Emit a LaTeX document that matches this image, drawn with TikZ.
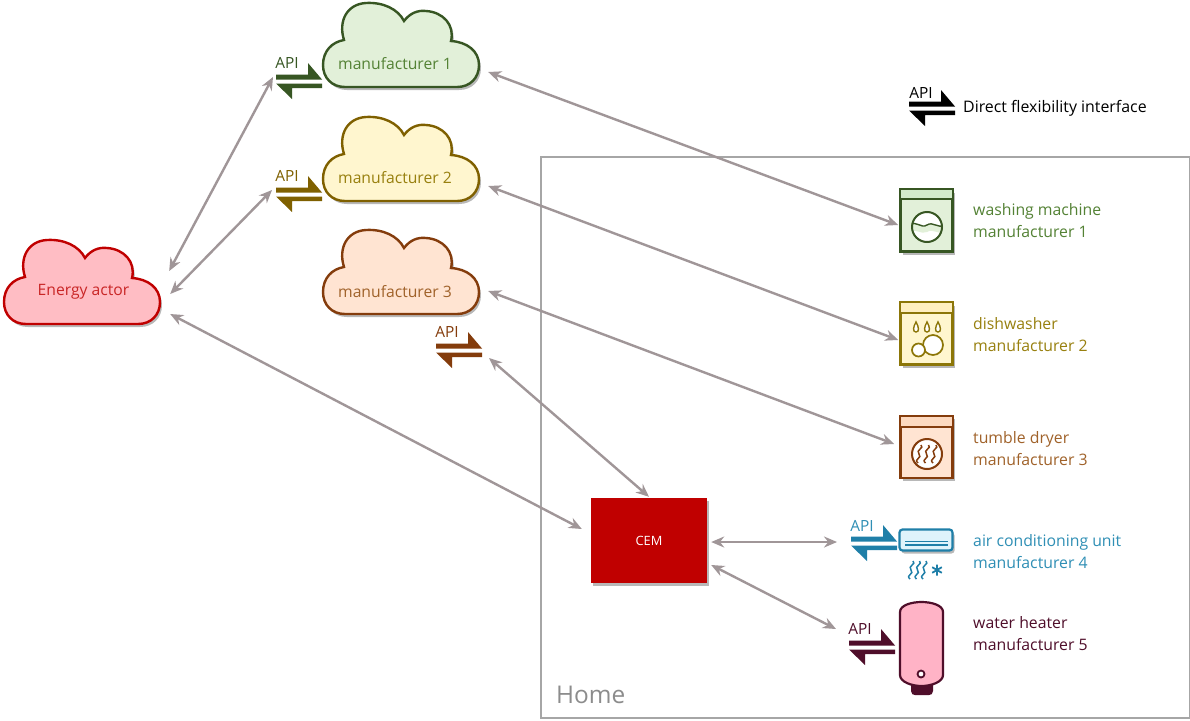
\documentclass[tikz,border=0pt]{standalone}
\usepackage{fontspec}
\setmainfont{Open Sans}
\usetikzlibrary{arrows.meta,shadows}
\definecolor{cgreen}{HTML}{375623}
\definecolor{cgreenF}{HTML}{E2F0D9}
\definecolor{cgreenH}{HTML}{D3EBCB}
\definecolor{cgreenT}{HTML}{548235}
\definecolor{colive}{HTML}{7F6000}
\definecolor{coliveB}{HTML}{8C7608}
\definecolor{coliveF}{HTML}{FFF6CF}
\definecolor{coliveH}{HTML}{FFEFC0}
\definecolor{coliveT}{HTML}{98800F}
\definecolor{cbrown}{HTML}{843C0C}
\definecolor{cbrownF}{HTML}{FFE4D2}
\definecolor{cbrownH}{HTML}{FDD9BF}
\definecolor{cbrownT}{HTML}{A0622A}
\definecolor{cblue}{HTML}{1F7FA8}
\definecolor{cblueF}{HTML}{DFF3FB}
\definecolor{cblueT}{HTML}{2F8FB5}
\definecolor{cmar}{HTML}{4F0E2A}
\definecolor{cpink}{HTML}{FFB3C6}
\definecolor{cred}{HTML}{C00000}
\definecolor{credF}{HTML}{FFBDC4}
\definecolor{cgrayline}{HTML}{A09698}
\tikzset{
  softshadow/.style={drop shadow={shadow xshift=2pt,shadow yshift=-3pt,fill=black,opacity=.28}},
  cloudshape/.style={line width=2.4pt,softshadow},
  cloudtext/.style={minimum width=156pt,minimum height=85pt,inner sep=0pt},
  cloudlabel/.style={inner sep=0pt,font=\fontsize{15.7}{18}\selectfont},
  apitext/.style={inner sep=0pt,font=\fontsize{15.4}{17}\selectfont},
  apptext/.style={anchor=west,align=left,inner sep=0pt,font=\fontsize{15.8}{22}\selectfont},
  appliance/.style={draw,line width=2.6pt,minimum width=52pt,minimum height=62pt,inner sep=0pt,softshadow},
  biarrow/.style={draw=cgrayline,line width=2.4pt,{Stealth[length=13pt,width=11pt]}-{Stealth[length=13pt,width=11pt]}},
}
\newcommand{\cloudat}[4]{%
  \path[cloudshape,draw=#3,fill=#4,shift={(#1,#2)}]
    (85,258) .. controls (91,250) and (99,247) .. (107,248)
    .. controls (124,249) and (136,262) .. (132,278)
    .. controls (148,279) and (160,288) .. (160,302)
    .. controls (160,315) and (151,324) .. (138,324)
    -- (26,324)
    .. controls (13,324) and (4,315) .. (4,302)
    .. controls (4,288) and (13,279) .. (25,277)
    .. controls (19,258) and (28,241) .. (47,240)
    .. controls (64,239) and (79,246) .. (85,258) -- cycle;%
}
\newcommand{\apisym}[3]{%
  \fill[#3,shift={(#1,#2)}] (0,-6.5) -- (32,-6.5) -- (32,-18) -- (46,-1.5) -- (0,-1.5) -- cycle;
  \fill[#3,shift={(#1,#2)}] (0,2.5) -- (46,2.5) -- (46,7) -- (16,7) -- (16,18) -- cycle;%
}
\newcommand{\waveV}[3]{%
  \draw[#3,line width=1.5pt,shift={(#1,#2)}] (2,0) .. controls (6,3) and (-4,5) .. (0,9) .. controls (4,13) and (-6,14) .. (-1,18);%
}
\newcommand{\drop}[3]{%
  \draw[#3,line width=1.4pt,fill=white,shift={(#1,#2)}] (0,-5) .. controls (3,0) and (3.5,5) .. (0,5) .. controls (-3.5,5) and (-3,0) .. (0,-5) -- cycle;%
}
\begin{document}
\begin{tikzpicture}[x=1pt,y=-1pt]
\useasboundingbox (0,0) rectangle (1190,720);
\fill[white] (0,0) rectangle (1190,720);
% Home
\node[draw=black!35,line width=2pt,minimum width=649pt,minimum height=561pt,inner sep=0pt] (home) at (865,437.5) {};
\node[anchor=west,inner sep=0pt,text=black!45,font=\fontsize{24.4}{28}\selectfont] (homet) at (556,695) {Home};
% clouds
\cloudat{0}{0}{cred}{credF}
\cloudat{319}{-237}{cgreen}{cgreenF}
\cloudat{319}{-123}{colive}{coliveF}
\cloudat{319}{-10}{cbrown}{cbrownF}
\node[cloudtext,label={[cloudlabel,xshift=1.5pt,yshift=-10pt,text=cred!85!white]center:Energy actor}] (ea) at (82,282) {};
\node[cloudtext,label={[cloudlabel,xshift=-7pt,yshift=-18.5pt,text=cgreenT]center:manufacturer 1}] (m1) at (402,45.5) {};
\node[cloudtext,label={[cloudlabel,xshift=-7pt,yshift=-18.5pt,text=coliveT]center:manufacturer 2}] (m2) at (402,159.5) {};
\node[cloudtext,label={[cloudlabel,xshift=-7pt,yshift=-18.5pt,text=cbrownT]center:manufacturer 3}] (m3) at (402,273) {};
% API symbols
\apisym{276}{81}{cgreen}
\apisym{276}{194}{colive}
\apisym{436}{350}{cbrown}
\apisym{909}{108}{black}
\apisym{851}{543}{cblue}
\apisym{849}{647}{cmar}
\node[apitext,text=cgreen] (api1) at (287,63) {API};
\node[apitext,text=colive] (api2) at (287,176) {API};
\node[apitext,text=cbrown] (api3) at (447,332) {API};
\node[apitext,text=black] (apil) at (921,93) {API};
\node[apitext,text=cblueT] (apia) at (862,526) {API};
\node[apitext,text=cmar] (apih) at (860,629) {API};
\node[anchor=west,inner sep=0pt,font=\fontsize{15.9}{18}\selectfont] (legend) at (963,108) {Direct flexibility interface};
% washing machine
\node[appliance,draw=cgreen,fill=cgreenF] (wm) at (926.5,220.5) {};
\fill[cgreenH] (901,190) rectangle (952,199);
\draw[cgreen,line width=2.2pt] (900,199) -- (953,199);
\begin{scope}
 \clip (927,227) circle (15);
 \fill[white] (912,212) rectangle (942,242);
 \path[fill=cgreenF] (910,225) .. controls (916,220) and (921,229) .. (927,225) .. controls (933,221) and (938,229) .. (944,225) -- (944,232) .. controls (938,235) and (933,228) .. (927,232) .. controls (921,235) and (916,228) .. (910,232) -- cycle;
 \draw[cgreen,line width=1.4pt] (910,225) .. controls (916,220) and (921,229) .. (927,225) .. controls (933,221) and (938,229) .. (944,225);
\end{scope}
\draw[cgreen,line width=2pt] (927,227) circle (15);
% dishwasher
\node[appliance,draw=coliveB,fill=coliveF] (dw) at (926.5,333.5) {};
\fill[coliveH] (901,303) rectangle (952,313);
\draw[coliveB,line width=2.2pt] (900,313) -- (953,313);
\drop{916}{327}{coliveB}
\drop{927}{327}{coliveB}
\drop{938}{327}{coliveB}
\draw[coliveB,line width=1.7pt,fill=white] (933,345) circle (10);
\draw[coliveB,line width=1.7pt,fill=white] (918.5,350) circle (6.5);
% tumble dryer
\node[appliance,draw=cbrown,fill=cbrownF] (td) at (926.5,447) {};
\fill[cbrownH] (901,417) rectangle (952,427);
\draw[cbrown,line width=2.2pt] (900,427) -- (953,427);
\draw[cbrown,line width=2pt,fill=white] (927,454) circle (15);
\waveV{919}{445}{cbrown}
\waveV{926.5}{445}{cbrown}
\waveV{934}{445}{cbrown}
% CEM
\node[draw=none,fill=cred,minimum width=116pt,minimum height=85pt,inner sep=0pt,text=white,font=\fontsize{12.8}{14}\selectfont,softshadow] (cem) at (649,540.5) {CEM};
% AC
\node[draw=cblue,fill=cblueF,line width=2.2pt,rounded corners=3pt,minimum width=53pt,minimum height=21pt,inner sep=0pt,softshadow] (ac) at (926,540) {};
\draw[cblue,line width=1.3pt] (905,541.5) -- (948,541.5) (905,545) -- (948,545);
\waveV{911}{561}{cblue}
\waveV{917.5}{561}{cblue}
\waveV{924}{561}{cblue}
\draw[cblue,line width=1.8pt] (937,564.5) -- (937,575.5) (932.2,567.2) -- (941.8,572.8) (932.2,572.8) -- (941.8,567.2);
% water heater
\fill[cmar] (911,684) -- (933,684) -- (933,691) .. controls (933,694) and (931,695) .. (929,695) -- (915,695) .. controls (913,695) and (911,694) .. (911,691) -- cycle;
\node[draw=none,minimum width=43pt,minimum height=84pt,inner sep=0pt] (wh) at (921.5,644) {};
\draw[cmar,line width=2.2pt,fill=cpink] (900,612) .. controls (900,605) and (912,602) .. (921.5,602) .. controls (931,602) and (943,605) .. (943,612) -- (943,675) .. controls (943,682) and (931,686) .. (921.5,686) .. controls (912,686) and (900,682) .. (900,675) -- cycle;
\draw[cmar,line width=1.8pt,fill=white] (921,674) circle (3.5);
% appliance labels
\node[apptext,text=cgreenT] (l1) at (973,221) {washing machine\\manufacturer 1};
\node[apptext,text=coliveT] (l2) at (973,335) {dishwasher\\manufacturer 2};
\node[apptext,text=cbrownT] (l3) at (973,448.5) {tumble dryer\\manufacturer 3};
\node[apptext,text=cblueT] (l4) at (973,551.5) {air conditioning unit\\manufacturer 4};
\node[apptext,text=cmar] (l5) at (973,633.5) {water heater\\manufacturer 5};
% connectors
\draw[biarrow] ([shift={(9,-11)}]ea.east) -- ([shift={(-14,14)}]api1.center);
\draw[biarrow] ([shift={(10,12)}]ea.east) -- ([shift={(-15,14)}]api2.center);
\draw[biarrow] ([shift={(10,32)}]ea.east) -- ([shift={(-9,-11.5)}]cem.west);
\draw[biarrow] ([shift={(8,26.5)}]m1.east) -- ([shift={(-1,4.5)}]wm.west);
\draw[biarrow] ([shift={(8,26.5)}]m2.east) -- ([shift={(-1,6.5)}]dw.west);
\draw[biarrow] ([shift={(8,18)}]m3.east) -- ([shift={(-5,-3)}]td.west);
\draw[biarrow] ([shift={(42,26)}]api3.center) -- ([shift={(0,-1)}]cem.north);
\draw[biarrow] ([shift={(4,1.5)}]cem.east) -- ([shift={(-25,16)}]apia.center);
\draw[biarrow] ([shift={(4,24.5)}]cem.east) -- ([shift={(-24,0)}]apih.center);
\end{tikzpicture}
\end{document}
